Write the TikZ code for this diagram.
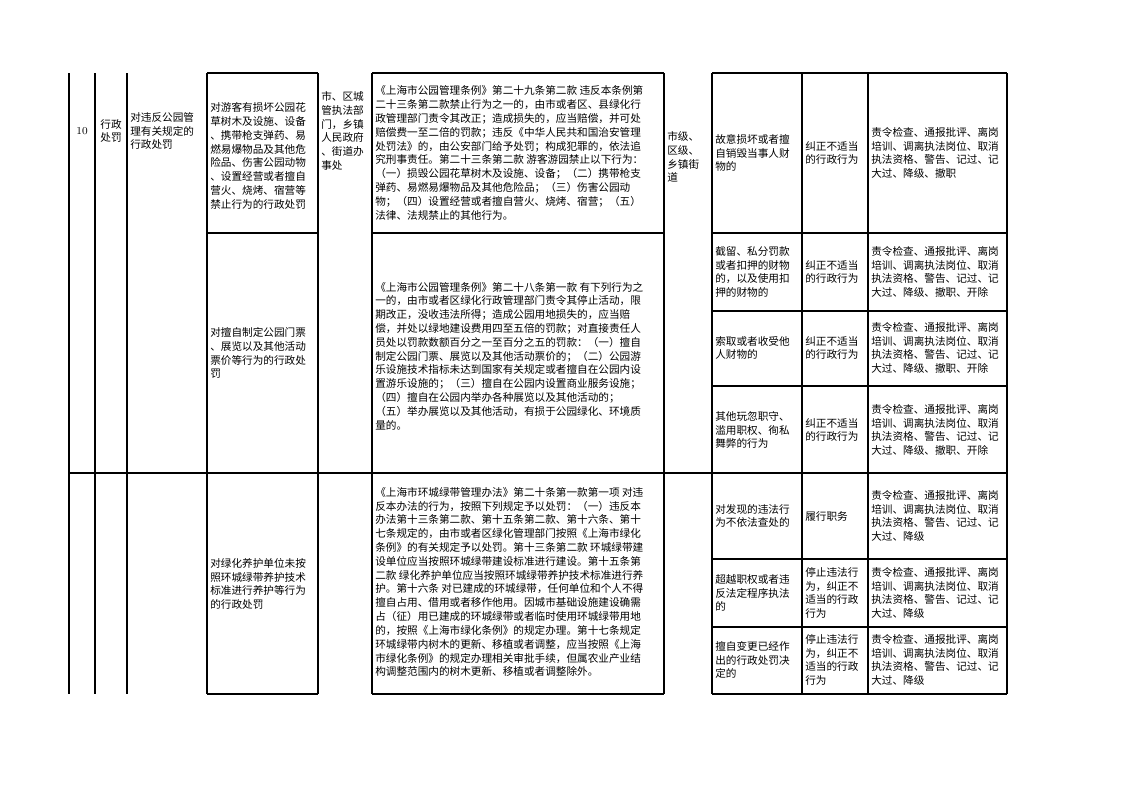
\documentclass[tikz,border=0pt]{standalone}
\usepackage{fontspec}
\usepackage{tikz}
\newfontfamily\cjk{Noto Sans CJK SC}

\begin{document}
\begin{tikzpicture}[x=0.26458mm,y=-0.26458mm,
	txt/.style={inner sep=0pt, align=left, anchor=west, font=\cjk\fontsize{8}{10.4}\selectfont},
	rule/.style={line width=1.1pt}]

\useasboundingbox (0,0) rectangle (1122,793);

\def \penA {责令检查、通报批评、离岗\\培训、调离执法岗位、取消\\执法资格、警告、记过、记\\大过、降级、撤职}
\def \penB {责令检查、通报批评、离岗\\培训、调离执法岗位、取消\\执法资格、警告、记过、记\\大过、降级、撤职、开除}
\def \penC {责令检查、通报批评、离岗\\培训、调离执法岗位、取消\\执法资格、警告、记过、记\\大过、降级}
\def \fixA {纠正不适当\\的行政行为}
\def \fixB {停止违法行\\为，纠正不\\适当的行政\\行为}

% vertical rules
\foreach \a in {69,95,127,207,318,372,664,712,802,868,1007}{
	\draw[rule] (\a,73)--(\a,694);
}

% horizontal rules of the boxes
\foreach \b in {73,233,694}{
	\draw[rule] (207,\b)--(318,\b);
	\draw[rule] (372,\b)--(664,\b);
	\draw[rule] (712,\b)--(1007,\b);
}
\foreach \b in {311,386,559,627}{
	\draw[rule] (712,\b)--(1007,\b);
}
\draw[rule] (69,473)--(1007,473);

% left part
\node[txt, anchor=center, font=\fontsize{8}{10}\selectfont] (num) at (82,131) {10};
\node[txt, anchor=center] (type) at (111,131) {行政\\处罚};
\node[txt] (item) at (130,131) {对违反公园管\\理有关规定的\\行政处罚};

\node[txt] (obj1) at (210,156) {对游客有损坏公园花\\草树木及设施、设备\\、携带枪支弹药、易\\燃易爆物品及其他危\\险品、伤害公园动物\\、设置经营或者擅自\\营火、烧烤、宿营等\\禁止行为的行政处罚};
\node[txt] (obj2) at (210,353) {对擅自制定公园门票\\、展览以及其他活动\\票价等行为的行政处\\罚};
\node[txt] (obj3) at (210,584) {对绿化养护单位未按\\照环城绿带养护技术\\标准进行养护等行为\\的行政处罚};

\node[txt] (dept) at (321,131) {市、区城\\管执法部\\门，乡镇\\人民政府\\、街道办\\事处};

% law texts
\node[txt] (law1) at (375,153) {《上海市公园管理条例》第二十九条第二款 违反本条例第\\二十三条第二款禁止行为之一的，由市或者区、县绿化行\\政管理部门责令其改正；造成损失的，应当赔偿，并可处\\赔偿费一至二倍的罚款；违反《中华人民共和国治安管理\\处罚法》的，由公安部门给予处罚；构成犯罪的，依法追\\究刑事责任。第二十三条第二款 游客游园禁止以下行为：\\（一）损毁公园花草树木及设施、设备；（二）携带枪支\\弹药、易燃易爆物品及其他危险品；（三）伤害公园动\\物；（四）设置经营或者擅自营火、烧烤、宿营；（五）\\法律、法规禁止的其他行为。};
\node[txt] (law2) at (375,356) {《上海市公园管理条例》第二十八条第一款 有下列行为之\\一的，由市或者区绿化行政管理部门责令其停止活动，限\\期改正，没收违法所得；造成公园用地损失的，应当赔\\偿，并处以绿地建设费用四至五倍的罚款；对直接责任人\\员处以罚款数额百分之一至百分之五的罚款：（一）擅自\\制定公园门票、展览以及其他活动票价的；（二）公园游\\乐设施技术指标未达到国家有关规定或者擅自在公园内设\\置游乐设施的；（三）擅自在公园内设置商业服务设施；\\（四）擅自在公园内举办各种展览以及其他活动的；\\（五）举办展览以及其他活动，有损于公园绿化、环境质\\量的。};
\node[txt] (law3) at (375,582) {《上海市环城绿带管理办法》第二十条第一款第一项 对违\\反本办法的行为，按照下列规定予以处罚：（一）违反本\\办法第十三条第二款、第十五条第二款、第十六条、第十\\七条规定的，由市或者区绿化管理部门按照《上海市绿化\\条例》的有关规定予以处罚。第十三条第二款 环城绿带建\\设单位应当按照环城绿带建设标准进行建设。第十五条第\\二款 绿化养护单位应当按照环城绿带养护技术标准进行养\\护。第十六条 对已建成的环城绿带，任何单位和个人不得\\擅自占用、借用或者移作他用。因城市基础设施建设确需\\占（征）用已建成的环城绿带或者临时使用环城绿带用地\\的，按照《上海市绿化条例》的规定办理。第十七条规定\\环城绿带内树木的更新、移植或者调整，应当按照《上海\\市绿化条例》的规定办理相关审批手续，但属农业产业结\\构调整范围内的树木更新、移植或者调整除外。};

\node[txt] (level) at (667,157) {市级、\\区级、\\乡镇街\\道};

% duty cases
\foreach \i/\c/\case/\fix/\pen in {
	1/153/{故意损坏或者擅\\自销毁当事人财\\物的}/\fixA/\penA,
	2/272/{截留、私分罚款\\或者扣押的财物\\的，以及使用扣\\押的财物的}/\fixA/\penB,
	3/348/{索取或者收受他\\人财物的}/\fixA/\penB,
	4/430/{其他玩忽职守、\\滥用职权、徇私\\舞弊的行为}/\fixA/\penB,
	5/516/{对发现的违法行\\为不依法查处的}/{履行职务}/\penC,
	6/593/{超越职权或者违\\反法定程序执法\\的}/\fixB/\penC,
	7/660/{擅自变更已经作\\出的行政处罚决\\定的}/\fixB/\penC}{
	\node[txt] (case\i) at (715,\c) {\case};
	\node[txt] (fix\i) at (805,\c) {\fix};
	\node[txt] (pen\i) at (871,\c) {\pen};
}

\end{tikzpicture}
\end{document}
